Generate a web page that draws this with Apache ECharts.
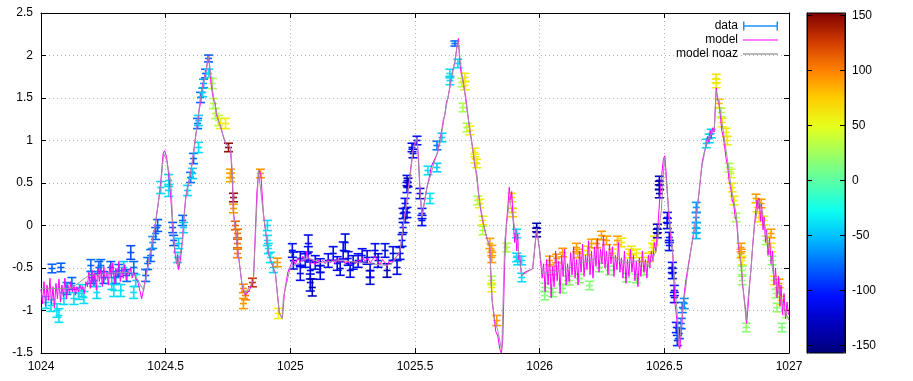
<!DOCTYPE html>
<html>
<head>
<meta charset="utf-8">
<script src="https://cdn.jsdelivr.net/npm/echarts@6/dist/echarts.min.js"></script>
<style>
html, body { margin: 0; padding: 0; background: #fff; }
#chart { width: 913px; height: 381px; }
</style>
</head>
<body>
<div id="chart"></div>
<script>
// measured points: position, value, error half-height, colour value (colour bar)
var dataX = [
  1024.020, 1024.040, 1024.044, 1024.064, 1024.072, 1024.080, 1024.092, 1024.104, 1024.124, 1024.132,
  1024.152, 1024.164, 1024.172, 1024.200, 1024.204, 1024.212, 1024.224, 1024.232, 1024.240, 1024.252,
  1024.280, 1024.284, 1024.292, 1024.300, 1024.312, 1024.320, 1024.332, 1024.344, 1024.360, 1024.372,
  1024.372, 1024.380, 1024.420, 1024.428, 1024.440, 1024.448, 1024.460, 1024.468, 1024.480, 1024.512,
  1024.512, 1024.528, 1024.532, 1024.548, 1024.552, 1024.568, 1024.572, 1024.588, 1024.600, 1024.608,
  1024.612, 1024.628, 1024.632, 1024.632, 1024.640, 1024.648, 1024.652, 1024.660, 1024.672, 1024.672,
  1024.688, 1024.692, 1024.700, 1024.712, 1024.720, 1024.740, 1024.752, 1024.760, 1024.760, 1024.772,
  1024.772, 1024.780, 1024.788, 1024.788, 1024.788, 1024.812, 1024.820, 1024.812, 1024.848, 1024.880,
  1024.908, 1024.908, 1024.912, 1024.920, 1024.932, 1024.948, 1024.952,
  1025.008, 1025.012, 1025.040, 1025.040, 1025.060, 1025.072, 1025.072, 1025.080, 1025.080, 1025.088,
  1025.100, 1025.120, 1025.120, 1025.152, 1025.172, 1025.188, 1025.200, 1025.212, 1025.220, 1025.232,
  1025.240, 1025.252, 1025.272, 1025.288, 1025.308, 1025.320, 1025.320, 1025.340, 1025.352, 1025.380,
  1025.388, 1025.412, 1025.428, 1025.440, 1025.448, 1025.452, 1025.452, 1025.460, 1025.460, 1025.468,
  1025.468, 1025.468, 1025.472, 1025.488, 1025.492, 1025.508, 1025.520, 1025.528, 1025.528,
  1025.552, 1025.560, 1025.588, 1025.588, 1025.608, 1025.640, 1025.640, 1025.660, 1025.672, 1025.688,
  1025.700, 1025.700, 1025.692, 1025.708, 1025.720, 1025.740, 1025.740, 1025.748, 1025.752, 1025.760,
  1025.772, 1025.772, 1025.800, 1025.808, 1025.808, 1025.808, 1025.808, 1025.828, 1025.868, 1025.888,
  1025.892, 1025.908, 1025.908, 1025.912, 1025.928, 1025.928, 1025.988, 1025.988,
  1026.020, 1026.020, 1026.040, 1026.052, 1026.052, 1026.068, 1026.092, 1026.092, 1026.112, 1026.120,
  1026.148, 1026.152, 1026.160, 1026.192, 1026.200, 1026.208, 1026.228, 1026.240, 1026.248, 1026.268,
  1026.280, 1026.292, 1026.312, 1026.328, 1026.348, 1026.360, 1026.368, 1026.388, 1026.388, 1026.412,
  1026.420, 1026.440, 1026.452, 1026.460, 1026.472, 1026.472, 1026.480, 1026.480, 1026.480, 1026.512,
  1026.512, 1026.520, 1026.520, 1026.532, 1026.532, 1026.540, 1026.540, 1026.548, 1026.552, 1026.560,
  1026.568, 1026.572, 1026.580,
  1026.628, 1026.628, 1026.628, 1026.628, 1026.668, 1026.680, 1026.688, 1026.708, 1026.708, 1026.720,
  1026.728, 1026.732, 1026.748, 1026.752, 1026.760, 1026.768, 1026.772, 1026.780, 1026.788, 1026.808,
  1026.808, 1026.812, 1026.812, 1026.812, 1026.828, 1026.868, 1026.872, 1026.880, 1026.888, 1026.900,
  1026.908, 1026.928, 1026.928, 1026.932, 1026.940, 1026.948, 1026.960, 1026.952, 1026.968, 1026.972,
  1026.988
];
var dataY = [
  -0.906, -0.941, -0.506, -1.000, -1.059, -0.494, -0.859, -0.741, -0.682, -0.859,
  -0.800, -0.765, -0.847, -0.471, -0.612, -0.647, -0.788, -0.494, -0.471, -0.612,
  -0.494, -0.682, -0.765, -0.612, -0.529, -0.765, -0.494, -0.588, -0.318, -0.494,
  -0.788, -0.647, -0.588, -0.447, -0.353, -0.200, -0.094, 0.000, 0.447, 0.529,
  0.412, -0.024, -0.176, -0.376, -0.212, 0.059, -0.024, 0.412, 0.565, 0.612,
  0.788, 1.200, 0.918, 1.235, 1.506, 1.565, 1.671, 1.788, 1.965, 1.788,
  1.671, 1.435, 1.318, 1.235, 1.200, 1.200, 0.918, 0.612, 0.565, 0.329,
  0.200, 0.000, -0.094, -0.212, -0.329, -0.741, -0.824, -0.918, -0.671, 0.612,
  0.000, -0.176, -0.271, -0.376, -0.494, -0.435, -1.035,
  -0.294, -0.412, -0.388, -0.565, -0.412, -0.212, -0.329, -0.529, -0.671, -0.729,
  -0.435, -0.471, -0.553, -0.412, -0.329, -0.447, -0.506, -0.294, -0.200, -0.388,
  -0.529, -0.435, -0.412, -0.353, -0.376, -0.529, -0.612, -0.294, -0.412, -0.294,
  -0.529, -0.329, -0.494, -0.329, -0.176, -0.024, 0.141, 0.094, 0.259, 0.153,
  0.447, 0.529, 0.506, 0.918, 0.847, 1.000, 0.376, 0.141, 0.059,
  0.647, 0.318, 0.682, 0.941, 1.035, 1.706, 1.788, 2.141, 1.906, 1.682,
  1.741, 1.647, 1.388, 1.153, 1.118, 0.859, 0.788, 0.729, 0.294, 0.259,
  0.059, -0.059, -0.212, -0.294, -0.376, -0.647, -0.729, -1.118, -0.259, 0.329,
  0.153, -0.094, -0.376, -0.412, -0.412, -0.612, -0.024, -0.082,
  -0.729, -0.824, -0.412, -0.529, -0.788, -0.388, -0.318, -0.741, -0.647, -0.647,
  -0.259, -0.329, -0.624, -0.294, -0.706, -0.212, -0.212, -0.494, -0.118, -0.176,
  -0.529, -0.329, -0.176, -0.200, -0.612, -0.329, -0.294, -0.329, -0.624, -0.376,
  -0.529, -0.376, -0.259, -0.176, -0.094, -0.035, 0.471, 0.529, 0.376, 0.094,
  0.024, -0.141, -0.235, -0.494, -0.565, -0.765, -0.847, -1.200, -1.353, -1.271,
  -1.153, -0.965, -0.918,
  0.212, 0.094, -0.024, -0.094, 0.965, 1.024, 1.082, 1.729, 1.671, 1.435,
  1.329, 1.212, 1.094, 1.000, 0.682, 0.612, 0.447, 0.294, 0.094, -0.259,
  -0.329, -0.412, -0.529, -0.647, -1.200, 0.318, 0.212, 0.094, 0.259, 0.059,
  -0.176, -0.094, -0.259, -0.412, -0.647, -0.800, -0.682, -0.965, -0.882, -1.200,
  -1.035
];
var dataErr = [
  0.07, 0.07, 0.05, 0.08, 0.08, 0.05, 0.07, 0.07, 0.07, 0.07,
  0.07, 0.07, 0.07, 0.07, 0.07, 0.07, 0.07, 0.07, 0.07, 0.07,
  0.07, 0.07, 0.07, 0.07, 0.07, 0.07, 0.07, 0.07, 0.08, 0.07,
  0.07, 0.07, 0.07, 0.07, 0.07, 0.07, 0.07, 0.07, 0.07, 0.07,
  0.07, 0.06, 0.06, 0.06, 0.06, 0.06, 0.06, 0.06, 0.06, 0.06,
  0.06, 0.06, 0.06, 0.06, 0.06, 0.05, 0.05, 0.05, 0.04, 0.05,
  0.06, 0.06, 0.06, 0.06, 0.06, 0.06, 0.05, 0.05, 0.05, 0.05,
  0.05, 0.05, 0.05, 0.05, 0.05, 0.05, 0.05, 0.06, 0.05, 0.05,
  0.06, 0.06, 0.06, 0.06, 0.06, 0.05, 0.06,
  0.08, 0.10, 0.08, 0.08, 0.08, 0.10, 0.08, 0.10, 0.10, 0.10,
  0.08, 0.08, 0.08, 0.08, 0.08, 0.08, 0.08, 0.10, 0.10, 0.08,
  0.08, 0.08, 0.08, 0.08, 0.08, 0.08, 0.08, 0.08, 0.08, 0.08,
  0.08, 0.08, 0.08, 0.07, 0.07, 0.06, 0.06, 0.06, 0.06, 0.06,
  0.06, 0.06, 0.05, 0.05, 0.05, 0.05, 0.06, 0.06, 0.06,
  0.05, 0.06, 0.05, 0.05, 0.05, 0.05, 0.05, 0.03, 0.05, 0.05,
  0.05, 0.05, 0.05, 0.05, 0.05, 0.05, 0.05, 0.05, 0.05, 0.05,
  0.05, 0.05, 0.06, 0.06, 0.06, 0.05, 0.05, 0.06, 0.05, 0.05,
  0.05, 0.05, 0.05, 0.05, 0.05, 0.05, 0.05, 0.05,
  0.05, 0.05, 0.05, 0.05, 0.05, 0.05, 0.05, 0.05, 0.05, 0.05,
  0.05, 0.05, 0.05, 0.05, 0.05, 0.05, 0.05, 0.05, 0.05, 0.05,
  0.05, 0.05, 0.05, 0.05, 0.05, 0.05, 0.05, 0.05, 0.05, 0.05,
  0.05, 0.05, 0.05, 0.05, 0.05, 0.05, 0.05, 0.05, 0.05, 0.06,
  0.06, 0.06, 0.06, 0.06, 0.06, 0.06, 0.06, 0.06, 0.06, 0.06,
  0.06, 0.06, 0.06,
  0.06, 0.06, 0.06, 0.06, 0.05, 0.05, 0.05, 0.05, 0.05, 0.05,
  0.05, 0.05, 0.05, 0.05, 0.05, 0.05, 0.05, 0.05, 0.05, 0.05,
  0.05, 0.05, 0.05, 0.05, 0.05, 0.05, 0.05, 0.05, 0.05, 0.05,
  0.05, 0.05, 0.05, 0.05, 0.05, 0.05, 0.05, 0.05, 0.05, 0.05,
  0.05
];
var dataAz = [
  -42, -40, -80, -40, -40, -80, -42, -72, -78, -40,
  -42, -42, -40, -78, -75, -75, -42, -78, -75, -80,
  -82, -42, -40, -70, -78, -40, -48, -78, -85, -78,
  -40, -42, -78, -75, -78, -65, -78, -82, -42, -42,
  -40, -82, -82, -42, -45, -78, -45, -42, -75, -45,
  -78, -78, -42, -45, -78, -45, -60, -78, -78, -42,
  30, 30, 28, 35, 55, 58, 145, 90, 88, 145,
  90, 110, 108, 110, 100, 95, 100, 92, 130, 92,
  -42, -40, -40, -40, -42, 92, 55,
  -105, -110, -112, -110, -110, -110, -105, -112, -112, -135,
  -110, -110, -115, -110, -110, -112, -115, -110, -110, -115,
  -112, -110, -110, -110, -115, -112, -118, -110, -115, -110,
  -135, -110, -115, -110, -110, -110, -112, -110, -110, -115,
  -105, -110, -135, -115, -118, -105, -105, -105, -108,
  -40, -40, -45, -72, -45, -40, -42, -75, -42, 30,
  60, 58, 28, 30, 58, 58, 55, 60, 30, 58,
  58, 30, 88, 88, 90, 30, 55, 90, 28, 62,
  75, -40, -42, -40, -40, -40, -135, -135,
  15, 15, 85, 80, 15, 88, 90, 15, 15, 18,
  90, 85, 18, 62, 15, 88, 90, 15, 90, 90,
  15, 60, 88, 62, 15, 60, 62, 58, 15, 58,
  18, 62, 58, 62, -135, -135, -135, -135, -135, -110,
  -112, -108, -110, -108, -112, -110, -108, -100, -95, -90,
  -80, -72, -65,
  -62, -62, -58, -55, -42, -45, -45, 62, 58, 80,
  30, 58, 60, 62, 28, 40, 58, 58, 28, 90,
  90, 58, 20, 20, 18, 90, 65, 60, 90, 60,
  25, 90, 60, 20, 60, 20, 90, 20, 60, 15,
  20
];

// model curve
var modelX = [
  1024.000, 1024.006, 1024.012, 1024.018, 1024.024, 1024.030, 1024.036, 1024.042, 1024.048, 1024.054,
  1024.060, 1024.066, 1024.072, 1024.078, 1024.084, 1024.090, 1024.096, 1024.102, 1024.108, 1024.114,
  1024.120, 1024.126, 1024.132, 1024.138, 1024.144, 1024.150, 1024.156, 1024.162, 1024.168, 1024.174,
  1024.180, 1024.186, 1024.192, 1024.198, 1024.204, 1024.210, 1024.216, 1024.222, 1024.228, 1024.234,
  1024.240, 1024.246, 1024.252, 1024.258, 1024.264, 1024.270, 1024.276, 1024.282, 1024.288, 1024.294,
  1024.300, 1024.306, 1024.312, 1024.318, 1024.324, 1024.330, 1024.336, 1024.342, 1024.348, 1024.354,
  1024.360, 1024.366, 1024.372, 1024.378, 1024.384, 1024.390, 1024.396, 1024.404, 1024.412, 1024.428,
  1024.440, 1024.452, 1024.460, 1024.472, 1024.480, 1024.490, 1024.496, 1024.504, 1024.512, 1024.520,
  1024.528, 1024.536, 1024.544, 1024.548, 1024.552, 1024.560, 1024.568, 1024.576, 1024.584, 1024.592,
  1024.600, 1024.610, 1024.620, 1024.628, 1024.634, 1024.640, 1024.646, 1024.652, 1024.658, 1024.664,
  1024.670, 1024.674, 1024.680, 1024.686, 1024.692, 1024.698, 1024.704, 1024.710, 1024.716, 1024.722,
  1024.730, 1024.740, 1024.750, 1024.760, 1024.766, 1024.772, 1024.788, 1024.808, 1024.820, 1024.836,
  1024.852, 1024.866, 1024.874, 1024.882, 1024.892, 1024.912, 1024.932, 1024.940, 1024.956, 1024.968,
  1024.976, 1024.990, 1025.000, 1025.010, 1025.020, 1025.030, 1025.040, 1025.050, 1025.060, 1025.066,
  1025.072, 1025.080, 1025.090, 1025.100, 1025.110, 1025.120, 1025.130, 1025.140, 1025.150, 1025.160,
  1025.170, 1025.180, 1025.190, 1025.200, 1025.210, 1025.220, 1025.230, 1025.240, 1025.250, 1025.260,
  1025.270, 1025.280, 1025.290, 1025.300, 1025.310, 1025.320, 1025.330, 1025.340, 1025.350, 1025.360,
  1025.370, 1025.380, 1025.388, 1025.396, 1025.404, 1025.412, 1025.420, 1025.428, 1025.436, 1025.444,
  1025.452, 1025.460, 1025.468, 1025.476, 1025.484, 1025.492, 1025.500, 1025.508, 1025.514, 1025.520,
  1025.528, 1025.536, 1025.548, 1025.556, 1025.566, 1025.574, 1025.582, 1025.590, 1025.598, 1025.606,
  1025.614, 1025.620, 1025.626, 1025.632, 1025.638, 1025.644, 1025.650, 1025.656, 1025.662, 1025.668,
  1025.674, 1025.680, 1025.686, 1025.692, 1025.698, 1025.704, 1025.712, 1025.720, 1025.728, 1025.734,
  1025.740, 1025.748, 1025.754, 1025.760, 1025.768, 1025.776, 1025.784, 1025.792, 1025.800, 1025.806,
  1025.810, 1025.818, 1025.824, 1025.832, 1025.840, 1025.846, 1025.852, 1025.860, 1025.866, 1025.872,
  1025.878, 1025.884, 1025.888, 1025.894, 1025.900, 1025.904, 1025.908, 1025.912, 1025.916, 1025.920,
  1025.924, 1025.928, 1025.940, 1025.972, 1025.988, 1026.000, 1026.004, 1026.010, 1026.016, 1026.022,
  1026.028, 1026.034, 1026.040, 1026.046, 1026.052, 1026.058, 1026.064, 1026.070, 1026.076, 1026.082,
  1026.088, 1026.094, 1026.100, 1026.106, 1026.112, 1026.118, 1026.124, 1026.130, 1026.136, 1026.142,
  1026.148, 1026.154, 1026.160, 1026.166, 1026.172, 1026.178, 1026.184, 1026.190, 1026.196, 1026.202,
  1026.208, 1026.214, 1026.220, 1026.226, 1026.232, 1026.238, 1026.244, 1026.250, 1026.256, 1026.262,
  1026.268, 1026.274, 1026.280, 1026.286, 1026.292, 1026.298, 1026.304, 1026.310, 1026.316, 1026.322,
  1026.328, 1026.334, 1026.340, 1026.346, 1026.352, 1026.358, 1026.364, 1026.370, 1026.376, 1026.382,
  1026.388, 1026.394, 1026.400, 1026.406, 1026.412, 1026.418, 1026.424, 1026.430, 1026.436, 1026.442,
  1026.448, 1026.454, 1026.460, 1026.466, 1026.472, 1026.480, 1026.488, 1026.496, 1026.502, 1026.510,
  1026.518, 1026.526, 1026.534, 1026.542, 1026.550, 1026.556, 1026.562, 1026.568, 1026.576, 1026.586,
  1026.600, 1026.614, 1026.628, 1026.640, 1026.652, 1026.662, 1026.668, 1026.674, 1026.678, 1026.684,
  1026.688, 1026.694, 1026.700, 1026.704, 1026.708, 1026.714, 1026.720, 1026.726, 1026.730, 1026.736,
  1026.742, 1026.748, 1026.754, 1026.760, 1026.766, 1026.772, 1026.778, 1026.784, 1026.790, 1026.796,
  1026.802, 1026.808, 1026.814, 1026.820, 1026.826, 1026.830, 1026.836, 1026.842, 1026.848, 1026.854,
  1026.860, 1026.866, 1026.872, 1026.876, 1026.880, 1026.886, 1026.890, 1026.896, 1026.900, 1026.906,
  1026.910, 1026.916, 1026.922, 1026.928, 1026.934, 1026.940, 1026.946, 1026.952, 1026.958, 1026.964,
  1026.968, 1026.974, 1026.980, 1026.986, 1026.992, 1026.998
];
var modelY = [
  -0.75, -0.92, -0.66, -0.95, -0.70, -0.88, -0.62, -0.93, -0.72, -0.97,
  -0.68, -0.86, -0.63, -0.90, -0.70, -0.84, -0.62, -0.86, -0.70, -0.80,
  -0.66, -0.78, -0.70, -0.82, -0.72, -0.78, -0.70, -0.76, -0.72, -0.80,
  -0.66, -0.72, -0.55, -0.74, -0.52, -0.70, -0.56, -0.76, -0.50, -0.66,
  -0.52, -0.72, -0.48, -0.64, -0.55, -0.70, -0.46, -0.62, -0.44, -0.68,
  -0.50, -0.60, -0.42, -0.66, -0.50, -0.62, -0.46, -0.64, -0.52, -0.58,
  -0.50, -0.62, -0.55, -0.60, -0.62, -0.68, -0.76, -0.86, -0.74, -0.48,
  -0.30, -0.10, 0.05, 0.30, 0.50, 0.85, 0.88, 0.80, 0.60, 0.35,
  0.00, -0.30, -0.45, -0.35, -0.52, -0.38, -0.15, 0.20, 0.40, 0.50,
  0.62, 0.80, 1.05, 1.20, 1.35, 1.45, 1.62, 1.70, 1.78, 1.85,
  2.00, 1.95, 1.72, 1.58, 1.48, 1.45, 1.30, 1.32, 1.20, 1.15,
  1.06, 0.96, 0.94, 0.90, 0.62, 0.15, -0.26, -0.74, -0.82, -0.76,
  -0.64, 0.40, 0.65, 0.60, 0.14, -0.33, -0.50, -0.56, -1.03, -1.09,
  -0.80, -0.55, -0.48, -0.40, -0.46, -0.38, -0.44, -0.36, -0.42, -0.30,
  -0.36, -0.46, -0.40, -0.46, -0.40, -0.44, -0.41, -0.45, -0.40, -0.44,
  -0.40, -0.45, -0.39, -0.43, -0.40, -0.45, -0.41, -0.46, -0.42, -0.45,
  -0.40, -0.43, -0.38, -0.42, -0.38, -0.44, -0.40, -0.36, -0.42, -0.46,
  -0.40, -0.44, -0.48, -0.42, -0.40, -0.43, -0.38, -0.40, -0.34, -0.22,
  -0.02, 0.15, 0.30, 0.50, 0.70, 0.88, 0.98, 1.03, 0.80, 0.42,
  0.10, 0.25, 0.45, 0.55, 0.70, 0.68, 0.80, 0.85, 0.98, 1.10,
  1.25, 1.30, 1.45, 1.50, 1.60, 1.70, 1.80, 1.88, 1.95, 2.10,
  2.20, 1.90, 1.78, 1.72, 1.60, 1.50, 1.30, 1.12, 0.98, 0.85,
  0.70, 0.60, 0.40, 0.26, 0.10, 0.00, -0.10, -0.18, -0.25, -0.70,
  -0.90, -1.10, -1.25, -1.30, -1.45, -1.50, -1.35, -0.40, 0.00, 0.20,
  0.45, 0.30, 0.40, 0.05, -0.20, -0.05, -0.30, -0.10, -0.40, -0.35,
  -0.50, -0.59, -0.55, -0.51, -0.04, -0.30, -0.30, -0.62, -0.45, -0.78,
  -0.40, -0.70, -0.35, -0.85, -0.48, -0.72, -0.30, -0.65, -0.42, -0.80,
  -0.35, -0.60, -0.28, -0.70, -0.45, -0.66, -0.32, -0.58, -0.25, -0.62,
  -0.40, -0.70, -0.30, -0.55, -0.22, -0.60, -0.35, -0.52, -0.18, -0.58,
  -0.30, -0.62, -0.25, -0.48, -0.15, -0.55, -0.28, -0.45, -0.12, -0.50,
  -0.30, -0.58, -0.22, -0.45, -0.25, -0.60, -0.35, -0.52, -0.20, -0.55,
  -0.38, -0.62, -0.30, -0.68, -0.40, -0.60, -0.28, -0.55, -0.35, -0.65,
  -0.42, -0.72, -0.38, -0.60, -0.30, -0.55, -0.40, -0.62, -0.35, -0.50,
  -0.30, -0.42, -0.20, -0.30, -0.10, 0.25, 0.55, 0.78, 0.82, 0.50,
  0.10, -0.15, -0.35, -0.90, -1.10, -1.40, -1.45, -1.25, -0.90, -0.65,
  -0.40, -0.15, 0.10, 0.40, 0.75, 0.88, 0.95, 1.05, 0.98, 1.12,
  1.02, 1.15, 1.10, 1.35, 1.62, 1.48, 1.42, 1.25, 1.12, 1.05,
  0.92, 0.78, 0.70, 0.52, 0.45, 0.30, 0.25, 0.10, 0.05, -0.20,
  -0.35, -0.45, -0.70, -0.85, -1.00, -1.15, -0.95, -0.70, -0.50, -0.25,
  -0.05, 0.15, 0.30, 0.20, 0.32, 0.05, 0.25, -0.05, 0.10, -0.20,
  -0.05, -0.35, -0.15, -0.45, -0.30, -0.70, -0.50, -0.85, -0.60, -0.95,
  -0.70, -1.05, -0.80, -1.10, -0.90, -1.05
];

// model without azimuth term
var noazX = [
  1024.000, 1024.120, 1024.190, 1024.280, 1024.360, 1024.380, 1024.412, 1024.440, 1024.460, 1024.480,
  1024.492, 1024.504, 1024.520, 1024.532, 1024.548, 1024.568, 1024.580, 1024.600, 1024.620, 1024.640,
  1024.660, 1024.672, 1024.692, 1024.708, 1024.740, 1024.760, 1024.768, 1024.772, 1024.788, 1024.808,
  1024.820, 1024.852, 1024.872, 1024.880, 1024.892, 1024.912, 1024.932, 1024.940, 1024.956, 1024.968,
  1024.972, 1025.000, 1025.040, 1025.068, 1025.120, 1025.200, 1025.280, 1025.388, 1025.412, 1025.440,
  1025.452, 1025.468, 1025.480, 1025.492, 1025.508, 1025.520, 1025.528, 1025.548, 1025.568, 1025.600,
  1025.620, 1025.640, 1025.660, 1025.672, 1025.688, 1025.700, 1025.720, 1025.740, 1025.760, 1025.780,
  1025.800, 1025.808, 1025.820, 1025.832, 1025.848, 1025.860, 1025.880, 1025.892, 1025.908, 1025.920,
  1025.928, 1025.972, 1025.988, 1026.000, 1026.012, 1026.092, 1026.160, 1026.228, 1026.280, 1026.308,
  1026.348, 1026.400, 1026.440, 1026.468, 1026.488, 1026.500, 1026.512, 1026.532, 1026.548, 1026.560,
  1026.572, 1026.600, 1026.628, 1026.648, 1026.668, 1026.688, 1026.700, 1026.708, 1026.720, 1026.740,
  1026.752, 1026.768, 1026.788, 1026.800, 1026.812, 1026.828, 1026.848, 1026.860, 1026.880, 1026.892,
  1026.908, 1026.928, 1026.940, 1026.960, 1026.988, 1027.000
];
var noazY = [
  -0.741, -0.741, -0.590, -0.560, -0.550, -0.600, -0.765, -0.294, 0.035, 0.471,
  0.847, 0.765, 0.529, -0.176, -0.494, -0.176, 0.329, 0.612, 1.035, 1.506,
  1.788, 1.988, 1.506, 1.271, 0.965, 0.918, 0.612, 0.141, -0.259, -0.729,
  -0.800, -0.647, 0.647, 0.624, 0.141, -0.329, -0.506, -0.565, -1.035, -1.094,
  -0.847, -0.494, -0.435, -0.376, -0.435, -0.412, -0.435, -0.471, -0.435, -0.294,
  -0.024, 0.294, 0.565, 0.882, 1.035, 0.412, 0.094, 0.447, 0.647, 0.965,
  1.318, 1.624, 1.941, 2.176, 1.788, 1.553, 1.118, 0.729, 0.259, -0.059,
  -0.259, -0.847, -1.118, -1.235, -1.471, -0.176, 0.329, 0.094, -0.141, -0.412,
  -0.588, -0.506, -0.035, -0.294, -0.565, -0.529, -0.447, -0.388, -0.353, -0.388,
  -0.435, -0.412, -0.471, -0.294, 0.176, 0.800, 0.376, -0.259, -0.882, -1.412,
  -1.035, -0.412, 0.094, 0.647, 0.965, 1.082, 1.118, 1.588, 1.435, 1.035,
  0.800, 0.447, 0.141, -0.259, -0.612, -1.118, -0.494, -0.024, 0.294, 0.176,
  -0.094, -0.412, -0.612, -0.800, -1.035, -1.118
];

var xTicks = { min: 1024, max: 1027, step: 0.5 };
var yTicks = { min: -1.5, max: 2.5, step: 0.5 };
var cbRange = [-157, 152];
var cbTicks = [-150, -100, -50, 0, 50, 100, 150];
var jet = ['#00007a', '#0000bc', '#000eff', '#0061ff', '#00b7ff', '#0dfff2', '#55ffaa',
           '#9dff63', '#e6ff1a', '#ffcc00', '#ff7f00', '#cf3a00', '#800000'];

var obs = [];
for (var i = 0; i < dataX.length; i++) {
  obs.push([dataX[i], dataY[i], dataErr[i], dataAz[i]]);
}
var model = modelX.map(function (x, i) { return [x, modelY[i]]; });
var noaz = noazX.map(function (x, i) { return [x, noazY[i]]; });

var font = { fontFamily: 'Liberation Sans, Arial, sans-serif', fontSize: 12, color: '#000' };

function seg(x1, y1, x2, y2, col) {
  return { type: 'line', shape: { x1: x1, y1: y1, x2: x2, y2: y2 }, style: { stroke: col, lineWidth: 1.6 } };
}

function drawErrorBar(params, api) {
  var x = api.value(0), y = api.value(1), e = api.value(2);
  var hi = api.coord([x, y + e]);
  var lo = api.coord([x, y - e]);
  var mid = api.coord([x, y]);
  var col = api.visual('color');
  return {
    type: 'group',
    children: [
      seg(hi[0], hi[1], lo[0], lo[1], col),
      seg(hi[0] - 4.5, hi[1], hi[0] + 4.5, hi[1], col),
      seg(lo[0] - 4.5, lo[1], lo[0] + 4.5, lo[1], col),
      seg(mid[0] - 3.5, mid[1], mid[0] + 3.5, mid[1], col)
    ]
  };
}

var errIcon = 'path://M0,0 L1.5,0 L1.5,9 L0,9 Z M0,3.8 L35,3.8 L35,5.2 L0,5.2 Z M33.5,0 L35,0 L35,9 L33.5,9 Z';
var lineIcon = 'path://M0,0 L35,0 L35,1.5 L0,1.5 Z';

function legendAt(name, top, icon, color) {
  return {
    data: [{ name: name, icon: icon, itemStyle: { color: color, borderWidth: 0, decal: 'none' } }],
    orient: 'vertical', align: 'right', right: 135, top: top,
    padding: 0, itemWidth: 35, itemHeight: 9, selectedMode: false,
    textStyle: font
  };
}

var frameTick = { inside: true, length: 5, lineStyle: { color: '#000' } };
var frameLine = { show: true, onZero: false, lineStyle: { color: '#000', width: 1 } };
var dotted = { show: true, lineStyle: { color: '#b4b4b4', width: 1, type: [1, 3] } };

var chart = echarts.init(document.getElementById('chart'));
chart.setOption({
  animation: false,
  backgroundColor: '#fff',
  grid: [
    { left: 41, top: 13, width: 748, height: 340 },
    { left: 807, top: 13, width: 38, height: 340, show: true, borderColor: '#000', borderWidth: 1,
      backgroundColor: 'transparent', z: 10 }
  ],
  xAxis: [
    { gridIndex: 0, type: 'value', position: 'bottom', min: xTicks.min, max: xTicks.max, interval: xTicks.step,
      axisLine: frameLine, axisTick: frameTick, splitLine: dotted,
      axisLabel: Object.assign({ margin: 8, formatter: function (v) { return String(+v.toFixed(1)); } }, font) },
    { gridIndex: 0, type: 'value', position: 'top', min: xTicks.min, max: xTicks.max, interval: xTicks.step,
      axisLine: frameLine, axisTick: frameTick, axisLabel: { show: false }, splitLine: { show: false } },
    { gridIndex: 1, type: 'value', min: 0, max: 1, show: false }
  ],
  yAxis: [
    { gridIndex: 0, type: 'value', position: 'left', min: yTicks.min, max: yTicks.max, interval: yTicks.step,
      axisLine: frameLine, axisTick: frameTick, splitLine: dotted,
      axisLabel: Object.assign({ margin: 8 }, font) },
    { gridIndex: 0, type: 'value', position: 'right', min: yTicks.min, max: yTicks.max, interval: yTicks.step,
      axisLine: frameLine, axisTick: frameTick, axisLabel: { show: false }, splitLine: { show: false } },
    { gridIndex: 1, type: 'value', position: 'left', min: cbRange[0], max: cbRange[1], z: 10,
      axisLine: frameLine, axisTick: Object.assign({ customValues: cbTicks }, frameTick),
      axisLabel: { show: false }, splitLine: { show: false } },
    { gridIndex: 1, type: 'value', position: 'right', min: cbRange[0], max: cbRange[1], z: 10,
      axisLine: frameLine, axisTick: Object.assign({ customValues: cbTicks }, frameTick),
      axisLabel: Object.assign({ margin: 7, customValues: cbTicks }, font), splitLine: { show: false } }
  ],
  visualMap: {
    type: 'continuous', min: cbRange[0], max: cbRange[1], dimension: 3, seriesIndex: 0,
    calculable: false, hoverLink: false, text: null, padding: 0, z: 1,
    left: 807, top: 13, itemWidth: 38, itemHeight: 340,
    inRange: { color: jet }
  },
  legend: [
    legendAt('data', 20, errIcon, '#1e90ff'),
    legendAt('model', 34, lineIcon, '#ff55ff'),
    legendAt('model noaz', 48, lineIcon, '#a0a0a0')
  ],
  series: [
    { name: 'data', type: 'custom', xAxisIndex: 0, yAxisIndex: 0, data: obs,
      renderItem: drawErrorBar, encode: { x: 0, y: 1 }, clip: true, z: 2 },
    { name: 'model', type: 'line', xAxisIndex: 0, yAxisIndex: 0, data: model,
      symbol: 'none', clip: true, z: 3,
      lineStyle: { color: '#ff00ff', width: 1 }, itemStyle: { color: '#ff00ff' } },
    { name: 'model noaz', type: 'line', xAxisIndex: 0, yAxisIndex: 0, data: noaz,
      symbol: 'none', clip: true, z: 4,
      lineStyle: { color: '#a38fa3', width: 1, type: 'solid' }, itemStyle: { color: '#a0a0a0' } }
  ]
});
</script>
</body>
</html>
